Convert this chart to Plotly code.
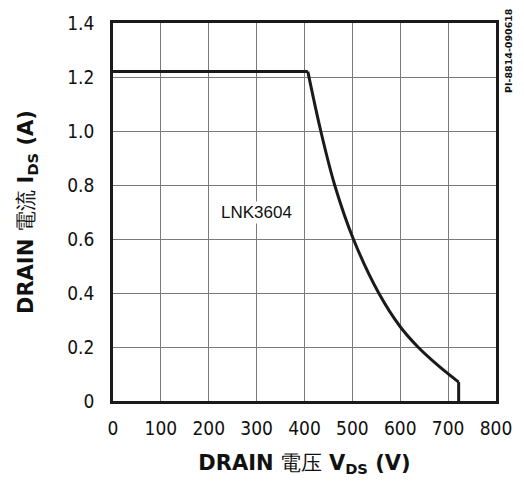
import plotly.graph_objects as go

# Data
flat_v = [0, 407]
flat_i = [1.22, 1.22]
curve_v = [407, 434, 463, 502, 555, 600, 637, 680, 722]
curve_i = [1.22, 1.0, 0.8, 0.6, 0.4, 0.275, 0.2, 0.13, 0.07]
drop_v = [722, 722]
drop_i = [0.07, 0.0]
x_ticks = [0, 100, 200, 300, 400, 500, 600, 700, 800]
y_ticks = [0, 0.2, 0.4, 0.6, 0.8, 1.0, 1.2, 1.4]
y_tick_labels = ["0", "0.2", "0.4", "0.6", "0.8", "1.0", "1.2", "1.4"]
label_text = "LNK3604"
label_pos = (299, 0.70)
figure_id = "PI-8814-090618"

line_style = dict(color="#1a1a1a", width=3)
fig = go.Figure()
fig.add_trace(go.Scatter(x=flat_v, y=flat_i, mode="lines", line=line_style,
                         showlegend=False, hoverinfo="skip"))
fig.add_trace(go.Scatter(x=curve_v, y=curve_i, mode="lines",
                         line=dict(shape="spline", smoothing=1.0, **line_style),
                         showlegend=False, hoverinfo="skip"))
fig.add_trace(go.Scatter(x=drop_v, y=drop_i, mode="lines", line=line_style,
                         showlegend=False, hoverinfo="skip"))

fig.add_annotation(x=label_pos[0], y=label_pos[1], text=label_text, showarrow=False,
                   font=dict(family="Liberation Sans, Arial", size=17, color="#111"),
                   bgcolor="white")
fig.add_annotation(xref="paper", yref="paper", x=1.0, y=1.0, xanchor="left", yanchor="top",
                   xshift=5, yshift=17, text="<b>" + figure_id + "</b>", textangle=-90, showarrow=False,
                   font=dict(family="DejaVu Sans", size=9.5, color="#111"))

tick_font = dict(family="DejaVu Sans Condensed, DejaVu Sans", size=19, color="#111")
title_font = dict(family="DejaVu Sans", size=21, color="#111")
axis_common = dict(showgrid=True, gridcolor="#7a7a7a", gridwidth=1,
                   showline=True, linecolor="#1a1a1a", linewidth=2.5, mirror=True,
                   zeroline=False, ticks="", tickfont=tick_font)

fig.update_layout(
    width=524, height=483,
    margin=dict(l=113, r=24, t=15, b=82),
    paper_bgcolor="white", plot_bgcolor="white",
    xaxis=dict(range=[0, 800], tickvals=x_ticks, ticklabelstandoff=8,
               title=dict(text="<b>DRAIN</b> 電压 <b>V<sub>DS</sub> (V)</b>",
                          font=title_font, standoff=18),
               **axis_common),
    yaxis=dict(range=[0, 1.4], tickvals=y_ticks, ticktext=y_tick_labels, ticklabelstandoff=12,
               title=dict(text="<b>DRAIN</b> 電流 <b>I<sub>DS</sub> (A)</b>",
                          font=title_font, standoff=28),
               **axis_common),
)

fig.write_html("out.html")
